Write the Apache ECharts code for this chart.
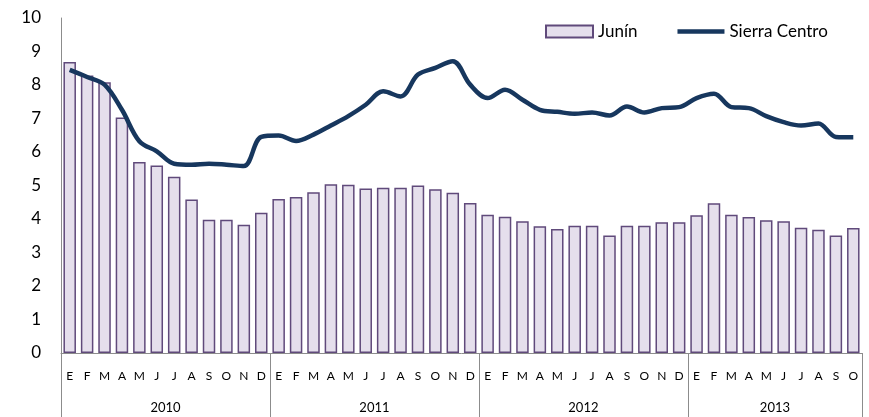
<!DOCTYPE html>
<html>
<head>
<meta charset="utf-8">
<script src="https://cdn.jsdelivr.net/npm/echarts@6/dist/echarts.min.js"></script>
<style>
  html, body { margin: 0; padding: 0; background: #fff; }
  #mainChart { width: 869px; height: 417px; }
</style>
</head>
<body>
<div id="mainChart"></div>
<script>
// meses (ene 2010 - oct 2013)
var monthLetters = ['E','F','M','A','M','J','J','A','S','O','N','D'];
var yearLabels = ['2010','2011','2012','2013'];
var monthsPerYear = [12, 12, 12, 10];

var junin = [
    8.69, 8.28, 8.08, 7.03, 5.70, 5.60, 5.26, 4.58, 3.98, 3.98, 3.83, 4.19,
    4.60, 4.66, 4.80, 5.04, 5.02, 4.91, 4.93, 4.93, 5.00, 4.89, 4.78, 4.48,
    4.13, 4.07, 3.93, 3.78, 3.70, 3.80, 3.80, 3.51, 3.80, 3.80, 3.90, 3.90,
    4.11, 4.47, 4.13, 4.06, 3.96, 3.93, 3.74, 3.68, 3.51, 3.73
];
var sierraCentro = [
    8.45, 8.24, 8.01, 7.26, 6.32, 6.02, 5.65, 5.62, 5.65, 5.62, 5.58, 6.45,
    6.49, 6.33, 6.52, 6.79, 7.07, 7.41, 7.81, 7.66, 8.31, 8.51, 8.71, 8.01,
    7.61, 7.86, 7.56, 7.26, 7.20, 7.14, 7.18, 7.09, 7.36, 7.18, 7.31, 7.34,
    7.61, 7.74, 7.34, 7.31, 7.07, 6.89, 6.79, 6.85, 6.45, 6.44
];

var categories = [];
var yearTicks = [0];
var yearCenters = [];
var pos = 0;
for (var y = 0; y < monthsPerYear.length; y++) {
    for (var m = 0; m < monthsPerYear[y]; m++) {
        categories.push(monthLetters[m]);
    }
    yearCenters.push(pos + monthsPerYear[y] / 2);
    pos += monthsPerYear[y];
    yearTicks.push(pos);
}

var font = 'Lato';
var chart = echarts.init(document.getElementById('mainChart'));
var option = {
    animation: false,
    textStyle: { fontFamily: font },
    grid: { left: 61, right: 7, top: 18, bottom: 64 },
    legend: {
        left: 545,
        top: 23,
        padding: 0,
        itemWidth: 47,
        itemHeight: 12,
        itemGap: 40,
        textStyle: { fontFamily: font, fontSize: 17, color: '#000' },
        data: [
            { name: 'Junín', icon: 'rect' },
            { name: 'Sierra Centro', icon: 'path://M0,0 L47,0 L47,4.5 L0,4.5 Z' }
        ]
    },
    xAxis: [
        {
            type: 'category',
            data: categories,
            boundaryGap: true,
            axisLine: { lineStyle: { color: '#8c8c8c', width: 1 } },
            axisTick: { show: false },
            axisLabel: { interval: 0, margin: 17, fontSize: 12, color: '#000', fontFamily: font }
        },
        {
            type: 'value',
            position: 'bottom',
            min: 0,
            max: pos,
            axisLine: { show: false },
            splitLine: { show: false },
            axisTick: {
                show: true,
                length: 64,
                customValues: yearTicks,
                lineStyle: { color: '#8c8c8c', width: 1 }
            },
            axisLabel: {
                customValues: yearCenters,
                margin: 48,
                fontSize: 13,
                color: '#000',
                fontFamily: font,
                formatter: function (v) {
                    var i = yearCenters.indexOf(v);
                    return i >= 0 ? yearLabels[i] : '';
                }
            }
        }
    ],
    yAxis: {
        type: 'value',
        min: 0,
        max: 10,
        interval: 1,
        axisLine: { show: true, lineStyle: { color: '#8c8c8c', width: 1 } },
        axisTick: { show: false },
        splitLine: { show: false },
        axisLabel: { fontSize: 17, color: '#000', margin: 20, fontFamily: font }
    },
    series: [
        {
            name: 'Junín',
            type: 'bar',
            xAxisIndex: 0,
            data: junin,
            barWidth: 12.5,
            itemStyle: { color: '#e5dfec', borderColor: '#604a7b', borderWidth: 1.5 }
        },
        {
            name: 'Sierra Centro',
            type: 'line',
            xAxisIndex: 0,
            data: sierraCentro,
            smooth: 0.35,
            symbol: 'none',
            lineStyle: { color: '#17375e', width: 4.5 },
            itemStyle: { color: '#17375e' }
        }
    ]
};
chart.setOption(option);
</script>
</body>
</html>
